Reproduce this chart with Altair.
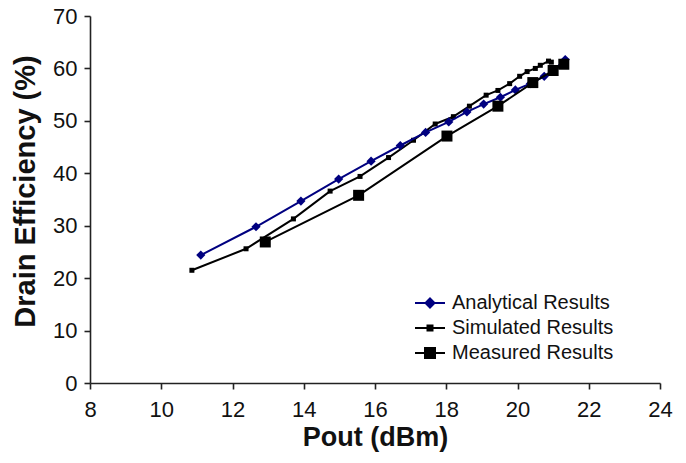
import altair as alt
import pandas as pd

series_names = ["Analytical Results", "Simulated Results", "Measured Results"]
series_colors = ["#000080", "#000000", "#000000"]

ana_x = [11.11, 12.66, 13.92, 14.98, 15.89, 16.71, 17.42, 18.07, 18.58, 19.05, 19.52, 19.94, 20.36, 20.75, 21.01, 21.34]
ana_y = [24.4, 29.8, 34.7, 38.9, 42.3, 45.3, 47.8, 49.8, 51.7, 53.2, 54.5, 55.9, 57.1, 58.5, 59.6, 61.7]

sim_x = [10.86, 12.38, 13.71, 14.74, 15.58, 16.38, 17.08, 17.69, 18.2, 18.65, 19.12, 19.45, 19.78, 20.06, 20.27, 20.5, 20.64, 20.87, 20.95]
sim_y = [21.5, 25.6, 31.3, 36.6, 39.4, 43.0, 46.3, 49.4, 50.8, 52.8, 54.9, 55.8, 57.1, 58.5, 59.4, 60.0, 60.6, 61.4, 61.2]

mea_x = [12.92, 15.54, 18.02, 19.45, 20.43, 21.0, 21.3]
mea_y = [26.9, 35.8, 47.1, 52.8, 57.3, 59.6, 60.8]

x_ticks = [8, 10, 12, 14, 16, 18, 20, 22, 24]
y_ticks = [0, 10, 20, 30, 40, 50, 60, 70]

legend_paths = [
    "M-1.5,0L1.5,0M0,-0.45L0.45,0L0,0.45L-0.45,0Z",
    "M-1.5,0L1.5,0M-0.25,-0.25L0.25,-0.25L0.25,0.25L-0.25,0.25Z",
    "M-1.5,0L1.5,0M-0.5,-0.5L0.5,-0.5L0.5,0.5L-0.5,0.5Z",
]


def frame(name, xs, ys):
    return pd.DataFrame({"series": name, "pout": xs, "eff": ys, "idx": list(range(len(xs)))})


ana = frame(series_names[0], ana_x, ana_y)
sim = frame(series_names[1], sim_x, sim_y)
mea = frame(series_names[2], mea_x, mea_y)
all_df = pd.concat([ana, sim, mea], ignore_index=True)

FONT = "Liberation Sans"

x_enc = alt.X(
    "pout:Q",
    scale=alt.Scale(domain=[8, 24], nice=False, zero=False),
    axis=alt.Axis(
        values=x_ticks, title="Pout (dBm)", grid=False, tickSize=6, labelPadding=10,
        labelFontSize=22, titleFontSize=27, titlePadding=4, titleFontWeight="bold",
        labelFlush=False, labelOverlap=False,
        labelFont=FONT, titleFont=FONT, labelColor="#111111", titleColor="#111111",
        domainColor="#222222", tickColor="#222222", domainWidth=1.6, tickWidth=1.6,
    ),
)
y_enc = alt.Y(
    "eff:Q",
    scale=alt.Scale(domain=[0, 70], nice=False),
    axis=alt.Axis(
        values=y_ticks, title="Drain Efficiency (%)", grid=False, tickSize=6, labelPadding=7,
        labelFontSize=22, titleFontSize=29, titlePadding=12, titleFontWeight="bold",
        labelFlush=False, labelOverlap=False,
        titleY=175, labelFont=FONT, titleFont=FONT, labelColor="#111111", titleColor="#111111",
        domainColor="#222222", tickColor="#222222", domainWidth=1.6, tickWidth=1.6,
    ),
)


def series_layers(df, color, shape, size):
    base = alt.Chart(df).encode(x=x_enc, y=y_enc, order="idx:Q")
    line = base.mark_line(color=color, strokeWidth=2)
    pts = base.mark_point(filled=True, shape=shape, size=size, color=color, opacity=1, strokeWidth=0)
    return [line, pts]


layers = []
layers += series_layers(sim, series_colors[1], "square", 25)
layers += series_layers(ana, series_colors[0], "diamond", 85)
layers += series_layers(mea, series_colors[2], "square", 121)

leg = alt.Legend(title=None)
legend_layer = alt.Chart(all_df).mark_point(filled=True, size=0).encode(
    x=alt.X("pout:Q"),
    y=alt.Y("eff:Q"),
    fill=alt.Fill("series:N", scale=alt.Scale(domain=series_names, range=series_colors), legend=leg),
    stroke=alt.Stroke("series:N", scale=alt.Scale(domain=series_names, range=series_colors), legend=leg),
    shape=alt.Shape("series:N", scale=alt.Scale(domain=series_names, range=legend_paths), legend=leg),
)
layers.append(legend_layer)

chart = (
    alt.layer(*layers)
    .properties(
        width=570,
        height=367,
        padding={"left": 90, "top": 16, "right": 26, "bottom": 80},
        autosize=alt.AutoSizeParams(type="none"),
        background="white",
    )
    .configure_view(stroke=None)
    .configure_legend(
        orient="none", legendX=329, legendY=276, padding=0,
        labelFontSize=20, labelFont=FONT, labelColor="#111111", labelOffset=11,
        labelLimit=0,
        symbolSize=400, symbolStrokeWidth=2, symbolOpacity=1,
        symbolFillColor="black", symbolStrokeColor="black", rowPadding=4,
    )
)

chart.save("out.html", embed_options={"renderer": "svg", "actions": False})
